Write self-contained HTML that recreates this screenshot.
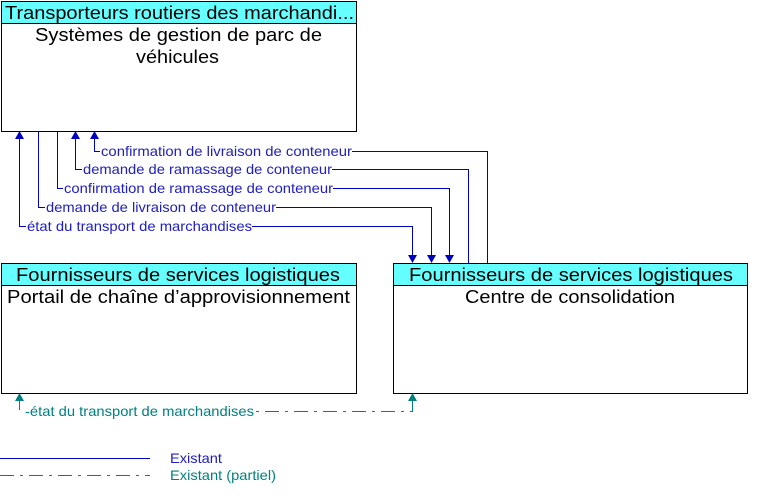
<!DOCTYPE html>
<html><head><meta charset="utf-8"><style>
html,body{margin:0;padding:0;background:#fff;}
svg{display:block;font-family:"Liberation Sans",Arial,sans-serif;}
</style></head><body>
<svg width="763" height="501" viewBox="0 0 763 501" xmlns="http://www.w3.org/2000/svg">
<!-- boxes -->
<rect x="1.5" y="1.5" width="355" height="130" fill="#fff" stroke="#000"/>
<rect x="1.5" y="1.5" width="355" height="22" fill="#66ffff" stroke="#000"/>
<text x="5" y="19" font-size="18" textLength="349" lengthAdjust="spacingAndGlyphs">Transporteurs routiers des marchandi...</text>
<text x="35" y="41" font-size="18" textLength="287" lengthAdjust="spacingAndGlyphs">Systèmes de gestion de parc de</text>
<text x="136" y="63" font-size="18" textLength="83" lengthAdjust="spacingAndGlyphs">véhicules</text>

<rect x="1.5" y="263.5" width="355" height="130" fill="#fff" stroke="#000"/>
<rect x="1.5" y="263.5" width="355" height="22" fill="#66ffff" stroke="#000"/>
<text x="16" y="281" font-size="18" textLength="324" lengthAdjust="spacingAndGlyphs">Fournisseurs de services logistiques</text>
<text x="7" y="303" font-size="18" textLength="343" lengthAdjust="spacingAndGlyphs">Portail de chaîne d’approvisionnement</text>

<rect x="393.5" y="263.5" width="354" height="130" fill="#fff" stroke="#000"/>
<rect x="393.5" y="263.5" width="354" height="22" fill="#66ffff" stroke="#000"/>
<text x="409" y="281" font-size="18" textLength="324" lengthAdjust="spacingAndGlyphs">Fournisseurs de services logistiques</text>
<text x="465" y="303" font-size="18" textLength="210" lengthAdjust="spacingAndGlyphs">Centre de consolidation</text>

<g stroke="#0000c0" stroke-width="1" fill="none">
<path d="M94.5,133 V151.5 H487.5 V263"/>
<path d="M75.5,133 V169.5 H468.5 V263"/>
<path d="M57.5,132 V188.5 H449.5 V262"/>
<path d="M38.5,132 V207.5 H431.5 V262"/>
<path d="M19.5,133 V226.5 H412.5 V262"/>
</g>
<g fill="#0000c0">
<path d="M94.5,131 l-4.5,8 h9z"/>
<path d="M75.5,131 l-4.5,8 h9z"/>
<path d="M19.5,131 l-4.5,8 h9z"/>
<path d="M449.5,263 l-4.5,-8 h9z"/>
<path d="M431.5,263 l-4.5,-8 h9z"/>
<path d="M412.5,263 l-4.5,-8 h9z"/>
</g>
<g font-size="14" fill="#2020c0">
<rect x="100" y="144" width="252" height="14" fill="#fff"/>
<text x="101" y="156" textLength="251" lengthAdjust="spacingAndGlyphs">confirmation de livraison de conteneur</text>
<rect x="82" y="162" width="250" height="14" fill="#fff"/>
<text x="83" y="174" textLength="249" lengthAdjust="spacingAndGlyphs">demande de ramassage de conteneur</text>
<rect x="63" y="181" width="270" height="14" fill="#fff"/>
<text x="64" y="193" textLength="269" lengthAdjust="spacingAndGlyphs">confirmation de ramassage de conteneur</text>
<rect x="45" y="200" width="231" height="14" fill="#fff"/>
<text x="46" y="212" textLength="230" lengthAdjust="spacingAndGlyphs">demande de livraison de conteneur</text>
<rect x="26" y="219" width="226" height="14" fill="#fff"/>
<text x="27" y="231" textLength="225" lengthAdjust="spacingAndGlyphs">état du transport de marchandises</text>
</g>
<!-- dashed -->
<path d="M19.5,396 V411.5 H412.5 V396" fill="none" stroke="#008080" stroke-dasharray="14,6,3,6"/>
<rect x="24" y="404" width="230" height="14" fill="#fff"/>
<text x="25" y="416" font-size="14" fill="#008080" textLength="229" lengthAdjust="spacingAndGlyphs">-état du transport de marchandises</text>
<path d="M19.5,393 l-4.5,8 h9z" fill="#008080"/>
<path d="M412.5,393 l-4.5,8 h9z" fill="#008080"/>
<!-- legend -->
<line x1="0" y1="458.5" x2="150" y2="458.5" stroke="#0000c0"/>
<text x="170" y="463" font-size="14" fill="#2020c0" textLength="52" lengthAdjust="spacingAndGlyphs">Existant</text>
<line x1="0" y1="475.5" x2="150" y2="475.5" stroke="#008080" stroke-dasharray="14,6,3,6"/>
<text x="170" y="480" font-size="14" fill="#008080" textLength="106" lengthAdjust="spacingAndGlyphs">Existant (partiel)</text>
</svg>
</body></html>
